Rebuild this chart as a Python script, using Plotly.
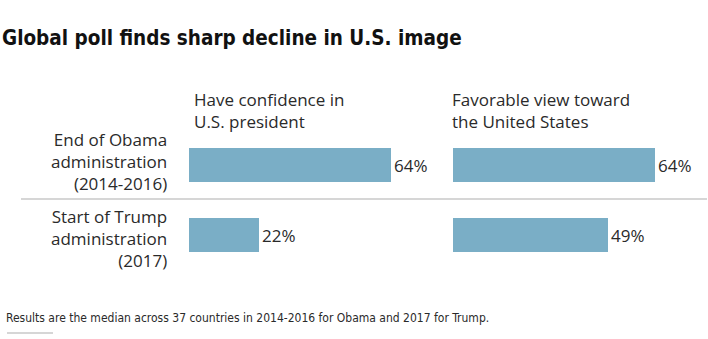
import plotly.graph_objects as go

W, H = 708, 339

title = "Global poll finds sharp decline in U.S. image"
categories = ["End of Obama<br>administration<br>(2014-2016)",
              "Start of Trump<br>administration<br>(2017)"]
panel_titles = ["Have confidence in<br>U.S. president",
                "Favorable view toward<br>the United States"]
confidence = [64, 22]
favorable = [64, 49]
footnote = "Results are the median across 37 countries in 2014-2016 for Obama and 2017 for Trump."

BAR = "#7aaec6"
TXT = "#2a2a2a"
FONT = "Open Sans"
COND = "DejaVu Sans Condensed"

def px_x(p):
    return p / W

def px_y(p):
    return 1 - p / H

XMAX = 80
scale = 3.16
x1 = (189, 189 + XMAX * scale)
x2 = (453, 453 + XMAX * scale)
ydom = (px_y(270), px_y(130))

fig = go.Figure()
for vals, xa, ya in [(confidence, "x", "y"), (favorable, "x2", "y2")]:
    fig.add_trace(go.Bar(
        x=vals, y=categories, orientation="h", xaxis=xa, yaxis=ya,
        marker=dict(color=BAR, line=dict(width=0)), width=0.486,
        text=[f"{v}%" for v in vals], textposition="outside",
        textfont=dict(family=FONT, size=17, color=TXT), cliponaxis=False,
        hoverinfo="skip"))

axis_common = dict(showgrid=False, zeroline=False, showticklabels=False,
                   showline=False, ticks="", fixedrange=True)
fig.update_layout(
    width=W, height=H, margin=dict(l=0, r=0, t=0, b=0),
    paper_bgcolor="white", plot_bgcolor="white", showlegend=False,
    bargap=0,
    xaxis=dict(domain=[px_x(x1[0]), px_x(x1[1])], range=[0, XMAX], **axis_common),
    xaxis2=dict(domain=[px_x(x2[0]), px_x(x2[1])], range=[0, XMAX], anchor="y2", **axis_common),
    yaxis=dict(domain=list(ydom), type="category", categoryarray=categories,
               range=[1.5, -0.5], anchor="x", **axis_common),
    yaxis2=dict(domain=list(ydom), type="category", categoryarray=categories,
                range=[1.5, -0.5], anchor="x2", **axis_common),
)

ann = []
ann.append(dict(text=f"<b>{title}</b>", x=px_x(0), y=px_y(38), xref="paper", yref="paper",
                xanchor="left", yanchor="middle", showarrow=False,
                font=dict(family=COND, size=20.5, color="#111111")))
for c, yc in zip(categories, [161.5, 238.5]):
    ann.append(dict(text=c, x=px_x(169), y=px_y(yc), xref="paper", yref="paper",
                    xanchor="right", yanchor="middle", align="right", showarrow=False,
                    font=dict(family=FONT, size=17, color=TXT)))
for t, xl in zip(panel_titles, [192, 450]):
    ann.append(dict(text=t, x=px_x(xl), y=px_y(110), xref="paper", yref="paper",
                    xanchor="left", yanchor="middle", align="left", showarrow=False,
                    font=dict(family=FONT, size=17, color=TXT)))
ann.append(dict(text=footnote, x=px_x(4), y=px_y(318), xref="paper", yref="paper",
                xanchor="left", yanchor="middle", showarrow=False,
                font=dict(family=COND, size=12, color=TXT)))
fig.update_layout(annotations=ann)

fig.add_shape(type="line", xref="paper", yref="paper", x0=px_x(21), x1=px_x(707),
              y0=px_y(199), y1=px_y(199), line=dict(color="#d6d6d6", width=2))
fig.add_shape(type="line", xref="paper", yref="paper", x0=px_x(7), x1=px_x(53),
              y0=px_y(333), y1=px_y(333), line=dict(color="#d6d6d6", width=2))

fig.write_html("out.html")
